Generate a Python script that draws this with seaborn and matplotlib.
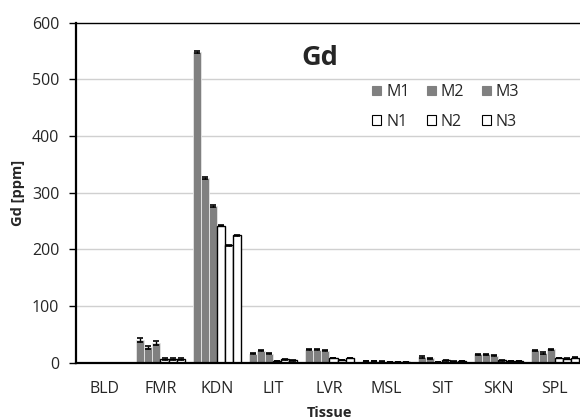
import numpy as np
import pandas as pd
import matplotlib
matplotlib.use("Agg")
import matplotlib.pyplot as plt
import seaborn as sns
from matplotlib.patches import Patch

# values (Gd, ppm)
tissues = ["BLD", "FMR", "KDN", "LIT", "LVR", "MSL", "SIT", "SKN", "SPL"]
series = ["M1", "M2", "M3", "N1", "N2", "N3"]
m1 = [0, 40, 548, 16, 23, 3, 10, 15, 22]
m2 = [0, 27, 326, 21, 23, 3, 8, 15, 17]
m3 = [0, 35, 276, 16, 21, 2, 1, 12, 24]
n1 = [0, 7, 242, 3, 8, 1, 4, 4, 8]
n2 = [0, 7, 207, 6, 5, 1, 2, 3, 7]
n3 = [0, 6, 225, 4, 8, 1, 3, 3, 9]
# error bar half-widths
m1_err = [0, 3, 2, 1, 1, 0.5, 1, 1, 1]
m2_err = [0, 3, 2, 1, 1, 0.5, 1, 1, 1]
m3_err = [0, 3, 2, 1, 1, 0.5, 0.5, 1, 1]
n1_err = [0, 2, 1, 0.5, 0.5, 0.3, 0.5, 0.5, 0.5]
n2_err = [0, 2, 1, 0.5, 0.5, 0.3, 0.5, 0.5, 0.5]
n3_err = [0, 2, 1, 0.5, 0.5, 0.3, 0.5, 0.5, 0.5]

values = [m1, m2, m3, n1, n2, n3]
errors = [m1_err, m2_err, m3_err, n1_err, n2_err, n3_err]

df = pd.DataFrame({
    "Tissue": tissues * len(series),
    "Series": np.repeat(series, len(tissues)),
    "Gd": np.concatenate(values),
})

sns.set_style("white")
plt.rcParams["font.family"] = ["Open Sans", "DejaVu Sans"]

gray = "#808080"
colors = [gray, gray, gray, "white", "white", "white"]

fig = plt.figure(figsize=(5.8, 4.19), dpi=100)
ax = fig.add_axes([0.131, 0.1344, 0.874, 0.8114])

sns.barplot(data=df, x="Tissue", y="Gd", hue="Series", order=tissues,
            hue_order=series, palette=colors, width=0.86, errorbar=None,
            legend=False, ax=ax, zorder=2)

bar_sets = list(ax.containers)
for i, cont in enumerate(bar_sets):
    for p, e in zip(cont.patches, errors[i]):
        if i < 3:
            p.set_edgecolor("#e6e6e6")
            p.set_linewidth(0.6)
        else:
            p.set_edgecolor("black")
            p.set_linewidth(1.0)
        if e == 0:
            continue
        xc = p.get_x() + p.get_width() / 2
        ax.errorbar(xc, p.get_height(), yerr=e, fmt="none", ecolor="black",
                    elinewidth=1.0, capsize=2.5, capthick=1.2, zorder=3)

ax.set_ylim(0, 600)
ax.set_xlim(-0.5, len(tissues) - 0.5)
ax.set_yticks(range(0, 601, 100))

# horizontal gridlines at the y tick positions
yt = ax.get_yticks()
ax.hlines(yt[(yt > 0) & (yt < 600)], -0.5, len(tissues) - 0.5,
          colors="#d0d0d0", linewidth=1, zorder=0.5)

ax.set_xticks(np.arange(-0.5, len(tissues)), minor=True)
ax.tick_params(axis="x", which="major", length=0, pad=13, labelsize=11.5)
ax.tick_params(axis="x", which="minor", length=5, width=1, color="black",
               direction="out")
ax.tick_params(axis="y", length=5, width=1, color="black", direction="out",
               pad=7, labelsize=11.5, left=True)

for s in ["left", "bottom"]:
    ax.spines[s].set_color("black")
    ax.spines[s].set_linewidth(1.6)
ax.spines["top"].set_color("black")
ax.spines["top"].set_linewidth(1.0)
ax.spines["right"].set_visible(False)

ax.set_xlabel("Tissue", fontsize=10.5, fontweight="bold", labelpad=7)
ax.set_ylabel("Gd [ppm]", fontsize=10.5, fontweight="bold", labelpad=5)
ax.text(0.481, 0.895, "Gd", transform=ax.transAxes, ha="center", va="center",
        fontsize=19.5, fontweight="bold")

handles = [Patch(facecolor=c, edgecolor=("black" if c == "white" else gray),
                 linewidth=0.8) for c in colors]
order = [0, 3, 1, 4, 2, 5]
ax.legend([handles[k] for k in order], [series[k] for k in order], ncol=3,
          frameon=False, fontsize=11.5, loc="upper left", borderpad=0,
          bbox_to_anchor=(0.569, 0.843), handlelength=0.56, handleheight=0.56,
          handletextpad=0.3, columnspacing=1.1, labelspacing=0.85)

fig.savefig("out.png", dpi=100)
